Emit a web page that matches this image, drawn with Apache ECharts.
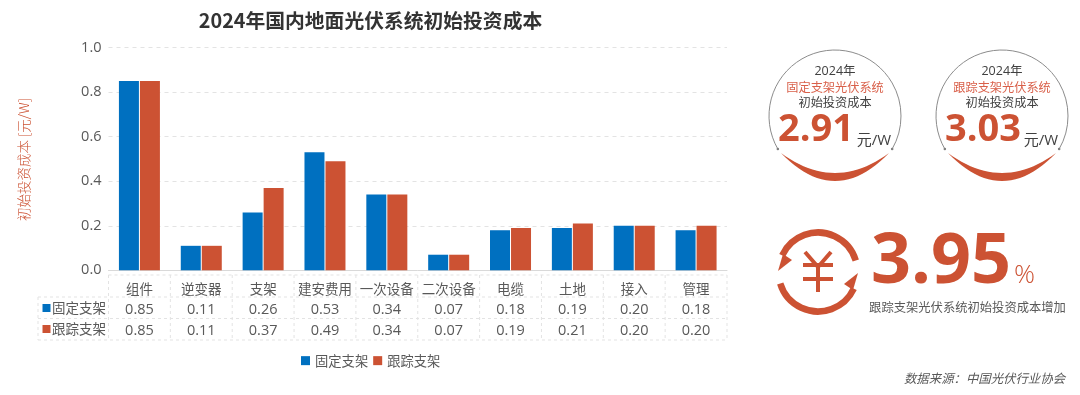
<!DOCTYPE html>
<html><head><meta charset="utf-8">
<style>html,body{margin:0;padding:0;background:#fff}#c{width:1080px;height:395px}</style>
<script src="https://cdn.jsdelivr.net/npm/echarts@6/dist/echarts.min.js"></script>
</head><body><div id="c"></div>
<script>
const title = '2024年国内地面光伏系统初始投资成本';
const categories = ['组件','逆变器','支架','建安费用','一次设备','二次设备','电缆','土地','接入','管理'];
const seriesNames = ['固定支架','跟踪支架'];
const fixedValues = [0.85,0.11,0.26,0.53,0.34,0.07,0.18,0.19,0.20,0.18];
const trackingValues = [0.85,0.11,0.37,0.49,0.34,0.07,0.19,0.21,0.20,0.20];
const yTicks = {min:0,max:1,interval:0.2};
const BLUE='#0070C0', RED='#CC5233', GREY='#595959', LINE='#E3E3E3';
const FONT='"Open Sans","Noto Sans CJK SC",sans-serif', CJK='"Noto Sans CJK SC",sans-serif';
const G={left:108.5,right:727,top:47.7,bottom:270.3};
const colW=(G.right-G.left)/categories.length;
const rowY=[275,297,318.5,340];
const g=[];
const line=(x1,y1,x2,y2)=>g.push({type:'line',silent:true,shape:{x1,y1,x2,y2},style:{stroke:LINE,lineWidth:1,lineDash:[3,3]}});
line(G.left,rowY[0],G.right,rowY[0]);
for(let i=1;i<rowY.length;i++) line(38,rowY[i],G.right,rowY[i]);
line(38,rowY[1],38,rowY[3]);
for(let i=0;i<=categories.length;i++) line(G.left+i*colW,rowY[0],G.left+i*colW,rowY[3]);
const txt=(text,x,y,fontSize,fill,extra={})=>g.push({type:'text',silent:true,x,y,style:Object.assign({text,fontSize,fill,fontFamily:FONT,textAlign:'center',textVerticalAlign:'middle'},extra)});
[[seriesNames[0],BLUE,308],[seriesNames[1],RED,329]].forEach(([n,c,y])=>{
  g.push({type:'rect',silent:true,shape:{x:42.5,y:y-4,width:8,height:8},style:{fill:c}});
  txt(n,52,y,13.5,GREY,{textAlign:'left',fontFamily:CJK});
});
g.push({type:'text',silent:true,x:24,y:159.5,rotation:Math.PI/2,style:{text:'初始投资成本 [元/W]',fontSize:13.5,fill:RED,fontFamily:CJK,fontWeight:300,textAlign:'center',textVerticalAlign:'middle'}});
function crescent(cx){
  const pts=[],q=(t,cy)=>[ (1-t)*(1-t)*(cx-54)+2*t*(1-t)*cx+t*t*(cx+54), (1-t)*(1-t)*153+2*t*(1-t)*cy+t*t*153 ];
  for(let i=0;i<=24;i++) pts.push(q(i/24,209));
  for(let i=24;i>=0;i--) pts.push(q(i/24,193));
  return pts;
}
function badge(cx,name,val){
  const cy=116,r=66;
  g.push({type:'arc',silent:true,shape:{cx,cy,r,startAngle:Math.PI*5/6,endAngle:Math.PI/6,clockwise:true},style:{stroke:'#8C8C8C',lineWidth:1,fill:'none'}});
  [-1,1].forEach(s=>g.push({type:'circle',silent:true,shape:{cx:cx+s*r*Math.cos(Math.PI/6),cy:cy+r*0.5,r:1.3},style:{fill:'#7F7F7F'}}));
  g.push({type:'polygon',silent:true,shape:{points:crescent(cx)},style:{fill:RED}});
  txt('2024年',cx,71,12.5,'#404040');
  txt(name,cx,87,12.2,'#D9604A',{fontFamily:CJK});
  txt('初始投资成本',cx,102,12.2,'#404040',{fontFamily:CJK});
  txt(val,cx-19,130,38,RED,{fontWeight:'bold'});
  txt('元/W',cx+39,141,15,'#404040');
}
badge(835,'固定支架光伏系统','2.91');
badge(1002,'跟踪支架光伏系统','3.03');
const ix=818,iy=272,ir=39.5,rad=d=>d*Math.PI/180;
[[205,343],[25,163]].forEach(([a,b])=>g.push({type:'arc',silent:true,shape:{cx:ix,cy:iy,r:ir,startAngle:rad(a),endAngle:rad(b),clockwise:true},style:{stroke:RED,lineWidth:6.5,fill:'none'}}));
g.push({type:'polygon',silent:true,shape:{points:[[778,271],[783,254],[792,260]]},style:{fill:RED}});
g.push({type:'polygon',silent:true,shape:{points:[[858,273],[853,290],[844,284]]},style:{fill:RED}});
[[[805,252],[818,267],[831,252]],[[803,265],[833,265]],[[803,279],[833,279]],[[818,267],[818,292]]].forEach(p=>g.push({type:'polyline',silent:true,shape:{points:p},style:{stroke:RED,lineWidth:4,fill:'none'}}));
txt('3.95',941,263,70,RED,{fontWeight:'bold'});
txt('%',1024.5,276,26,RED,{fontWeight:300});
txt('跟踪支架光伏系统初始投资成本增加',967.5,307,12.3,GREY,{fontFamily:CJK});
txt('数据来源：中国光伏行业协会',984.5,378,12.4,GREY,{fontFamily:CJK,fontStyle:'italic'});

const chart=echarts.init(document.getElementById('c'),null,{renderer:'canvas'});
chart.setOption({
  animation:false,
  backgroundColor:'#fff',
  title:{text:title,left:365.5,top:6,textAlign:'center',textStyle:{fontFamily:CJK,fontSize:19.8,fontWeight:'bold',color:'#333'}},
  legend:{left:296,top:349,itemWidth:9,itemHeight:9,itemGap:5,icon:'rect',textStyle:{fontFamily:CJK,fontSize:13.3,color:GREY},data:seriesNames},
  grid:{left:G.left,right:1080-G.right,top:G.top,bottom:395-G.bottom,containLabel:false},
  xAxis:{type:'category',data:categories,
    axisLine:{lineStyle:{color:'#D9D9D9',width:1}},axisTick:{show:false},
    axisLabel:{interval:0,margin:8,color:GREY,fontFamily:FONT,fontSize:14.5,lineHeight:21,
      formatter:(v,i)=>`{c|${v}}\n${fixedValues[i].toFixed(2)}\n${trackingValues[i].toFixed(2)}`,
      rich:{c:{fontFamily:CJK,fontSize:13.5,color:GREY,lineHeight:21}}}},
  yAxis:{type:'value',min:yTicks.min,max:yTicks.max,interval:yTicks.interval,
    axisLine:{show:false},axisTick:{show:false},
    axisLabel:{margin:7,color:GREY,fontFamily:FONT,fontSize:14.5,formatter:v=>v.toFixed(1)},
    splitLine:{lineStyle:{color:LINE,type:[4,4],width:1}}},
  series:[
    {name:seriesNames[0],type:'bar',data:fixedValues,barWidth:20,barGap:'5%',itemStyle:{color:BLUE}},
    {name:seriesNames[1],type:'bar',data:trackingValues,barWidth:20,barGap:'5%',itemStyle:{color:RED}}
  ],
  graphic:{elements:g}
});
</script></body></html>
